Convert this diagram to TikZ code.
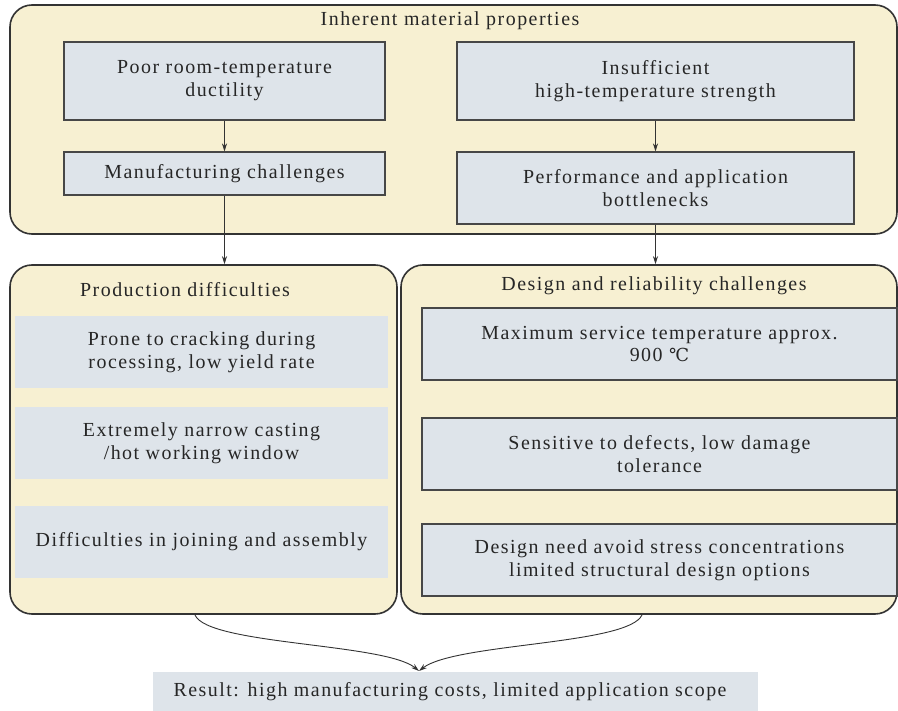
\documentclass[tikz,border=0pt]{standalone}
\usepackage{fontspec}
\setmainfont{Liberation Serif}[LetterSpace=7.5]
\newfontfamily\symfont{DejaVu Serif}
\usetikzlibrary{arrows.meta}
\definecolor{cream}{HTML}{F7F0D2}
\definecolor{paleblue}{HTML}{DEE4EA}
\definecolor{edge}{HTML}{333333}
\begin{document}
\begin{tikzpicture}[x=1bp,y=-1bp,
  every node/.style={font=\fontsize{20}{23}\selectfont, text=black!85, align=center, inner sep=0pt},
  outerbox/.style={draw=edge, line width=1.6bp, fill=cream, rounded corners=22bp},
  innerbox/.style={draw=edge!90, line width=1.1bp, fill=paleblue},
  band/.style={fill=paleblue},
  conn/.style={draw=edge, line width=0.9bp, -{Stealth[length=8bp,width=5bp]}}
]
\useasboundingbox (0,0) rectangle (898,711);
\fill[white] (0,0) rectangle (898,711);

% top group
\node[outerbox, minimum width=887bp, minimum height=229bp] (top) at (453.5,119.5) {};
\node (toptitle) at (450,21) {Inherent material properties};
\node[innerbox, minimum width=321bp, minimum height=78bp] (p1) at (224.5,81) {Poor room-temperature\\ductility};
\node[innerbox, minimum width=321bp, minimum height=43bp] (m1) at (224.5,173.5) {Manufacturing challenges};
\node[innerbox, minimum width=397bp, minimum height=78bp] (p2) at (655.5,81) {Insufficient\\high-temperature strength};
\node[innerbox, minimum width=397bp, minimum height=72bp] (m2) at (655.5,188) {Performance and application\\bottlenecks};

% production group
\node[outerbox, minimum width=387bp, minimum height=349bp] (prod) at (203.5,439.5) {};
\node (prodtitle) at (185,290) {Production difficulties};
\node[band, minimum width=373bp, minimum height=72bp] (b1) at (201.5,352) {Prone to cracking during\\rocessing, low yield rate};
\node[band, minimum width=373bp, minimum height=72bp] (b2) at (201.5,443) {Extremely narrow casting\\/hot working window};
\node[band, minimum width=373bp, minimum height=72bp] (b3) at (201.5,542) {Difficulties in joining and assembly};

% design group
\node[outerbox, minimum width=496bp, minimum height=349bp] (des) at (649,439.5) {};
\node (destitle) at (654,286) {Design and reliability challenges};
\node[innerbox, minimum width=475bp, minimum height=72bp] (d1) at (659.5,344) {Maximum service temperature approx.\\900 {\symfont\fontsize{18}{23}\selectfont ℃}};
\node[innerbox, minimum width=475bp, minimum height=72bp] (d2) at (659.5,454) {Sensitive to defects, low damage\\tolerance};
\node[innerbox, minimum width=475bp, minimum height=72bp] (d3) at (659.5,560) {Design need avoid stress concentrations\\limited structural design options};

% result
\node[band, minimum width=605bp, minimum height=39bp] (res) at (455.5,691.5) {};
\node (restext) at (450,692) {Result: high manufacturing costs, limited application scope};

% connectors
\draw[conn] (p1.south) -- (m1.north);
\draw[conn] (m1.south) -- (m1.south |- prod.north);
\draw[conn] (p2.south) -- (m2.north);
\draw[conn] (m2.south) -- (m2.south |- des.north);

\coordinate (cl) at (195,615);
\coordinate (cr) at (642,615);
\coordinate (tip) at (419,671);
\draw[conn] (cl) .. controls (208,645) and (385,643) .. (tip);
\draw[conn] (cr) .. controls (628,645) and (455,643) .. (tip);
\end{tikzpicture}
\end{document}
